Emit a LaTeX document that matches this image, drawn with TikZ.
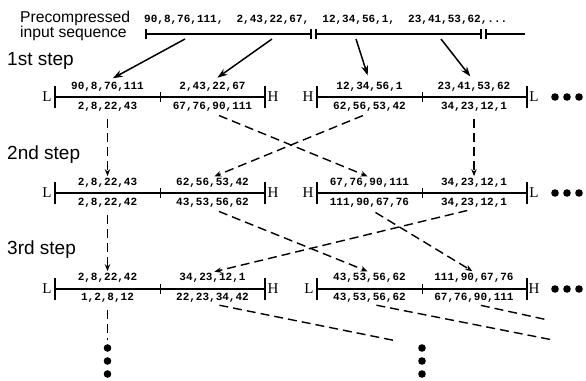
\documentclass[tikz,border=0pt]{standalone}
\usepackage{fontspec}
\usepackage{tikz}
\usetikzlibrary{arrows.meta, positioning}
\newfontfamily\arialfont{Liberation Sans}
\newfontfamily\courfont{Liberation Mono}
\newfontfamily\timesfont{Liberation Serif}

\begin{document}
\begin{tikzpicture}[x=1pt, y=-1pt,
    num/.style={font={\courfont\bfseries\fontsize{11}{12}\selectfont}, inner sep=1pt},
    steplabel/.style={font={\arialfont\fontsize{19}{20}\selectfont}, anchor=west, inner sep=0pt},
    endlabel/.style={font={\timesfont\fontsize{15}{16}\selectfont}, inner sep=0pt},
    arr/.style={-{Stealth[length=10pt, width=7pt]}, line width=1.5pt},
    darr/.style={-{Stealth[length=7pt, width=5.5pt]}, line width=1.4pt, dash pattern=on 9pt off 5pt},
    dline/.style={line width=1.4pt, dash pattern=on 9pt off 5pt}]
  \useasboundingbox (0,0) rectangle (586,380);

  % Input sequence
  \node[font={\arialfont\fontsize{15.7}{15}\selectfont}, align=left, anchor=west, inner sep=0pt]
    (pre) at (20,25.5) {Precompressed\\input sequence};
  \node[num, anchor=west] (seq) at (143,20) {90,8,76,111,~~2,43,22,67,~~12,34,56,1,~~23,41,53,62,...};
  \draw[line width=1.3pt] (146,34) -- (311,34);
  \draw[line width=1.3pt] (316,34) -- (481,34);
  \draw[line width=1.3pt] (486,34) -- (525,34);
  \foreach \x in {146,311,316,481,486}
    \draw[line width=1.1pt] (\x,29) -- (\x,39);

  % Step labels
  \node[steplabel] (st1) at (7,61) {1st step};
  \node[steplabel] (st2) at (7,155) {2nd step};
  \node[steplabel] (st3) at (7,250) {3rd step};

  % Blocks
  \foreach \y in {97,193,289}
    \foreach \x in {55,317} {
      \draw[line width=1.4pt] (\x,\y) -- (\x+210,\y);
      \draw[line width=1.4pt] (\x,\y-11) -- (\x,\y+11);
      \draw[line width=1.4pt] (\x+210,\y-11) -- (\x+210,\y+11);
      \draw[line width=1pt] (\x+105,\y-5) -- (\x+105,\y+5);
    }

  % Row 1
  \node[num] (a1t) at (107.5,87) {90,8,76,111};
  \node[num] (a2t) at (212.5,87) {2,43,22,67};
  \node[num] (a3t) at (369.5,87) {12,34,56,1};
  \node[num] (a4t) at (474,87) {23,41,53,62};
  \node[num] (a1b) at (107.5,107) {2,8,22,43};
  \node[num] (a2b) at (212.5,107) {67,76,90,111};
  \node[num] (a3b) at (369.5,107) {62,56,53,42};
  \node[num] (a4b) at (474,107) {34,23,12,1};
  \node[endlabel] (aL) at (47,97) {L};
  \node[endlabel] (aH) at (273,97) {H};
  \node[endlabel] (aH2) at (308,97) {H};
  \node[endlabel] (aL2) at (534,97) {L};

  % Row 2
  \node[num] (b1t) at (107.5,183) {2,8,22,43};
  \node[num] (b2t) at (212.5,183) {62,56,53,42};
  \node[num] (b3t) at (369.5,183) {67,76,90,111};
  \node[num] (b4t) at (474,183) {34,23,12,1};
  \node[num] (b1b) at (107.5,203) {2,8,22,42};
  \node[num] (b2b) at (212.5,203) {43,53,56,62};
  \node[num] (b3b) at (369.5,203) {111,90,67,76};
  \node[num] (b4b) at (474,203) {34,23,12,1};
  \node[endlabel] (bL) at (47,193) {L};
  \node[endlabel] (bH) at (273,193) {H};
  \node[endlabel] (bH2) at (308,193) {H};
  \node[endlabel] (bL2) at (534,193) {L};

  % Row 3
  \node[num] (c1t) at (107.5,278) {2,8,22,42};
  \node[num] (c2t) at (212.5,278) {34,23,12,1};
  \node[num] (c3t) at (369.5,278) {43,53,56,62};
  \node[num] (c4t) at (474,278) {111,90,67,76};
  \node[num] (c1b) at (107.5,298) {1,2,8,12};
  \node[num] (c2b) at (212.5,298) {22,23,34,42};
  \node[num] (c3b) at (369.5,298) {43,53,56,62};
  \node[num] (c4b) at (474,298) {67,76,90,111};
  \node[endlabel] (cL) at (47,289) {L};
  \node[endlabel] (cH) at (273,289) {H};
  \node[endlabel] (cL2) at (309,289) {L};
  \node[endlabel] (cH2) at (534,289) {H};

  % More blocks to the right
  \foreach \y in {97,193,289}
    \foreach \x in {555,567,579}
      \fill (\x,\y) circle[radius=3.8pt];

  % Input split
  \coordinate (in1) at (185,39);
  \coordinate (in2) at (272,39);
  \coordinate (in3) at (356,39);
  \coordinate (in4) at (441,39);
  \draw[arr, shorten >=6pt] (in1) -- (a1t.north);
  \draw[arr, shorten >=6pt] (in2) -- (a2t.north);
  \draw[arr, shorten >=6pt] (in3) -- (a3t.north);
  \draw[arr, shorten >=6pt] (in4) -- (a4t.north);

  % Step 1 -> step 2
  \draw[darr, shorten <=6pt, shorten >=1pt] (a1b.south) -- (b1t.north);
  \draw[darr, shorten <=7pt, shorten >=2pt] (a2b.south) -- (b3t.north);
  \draw[darr, shorten <=7pt, shorten >=2pt] (a3b.south) -- (b2t.north);
  \draw[darr, shorten <=6pt, shorten >=1pt] (a4b.south) -- (b4t.north);

  % Step 2 -> step 3
  \draw[darr, shorten <=6pt, shorten >=1pt] (b1b.south) -- (c1t.north);
  \draw[darr, shorten <=7pt, shorten >=2pt] (b2b.south) -- (c3t.north);
  \draw[darr, shorten <=7pt, shorten >=2pt] (b4b.south) -- (c2t.north);
  \draw[darr, shorten <=7pt, shorten >=2pt] (b3b.south) -- (c4t.north);

  % Step 3 -> onwards
  \coordinate (d1) at (107.5,340);
  \coordinate (d2) at (397,341);
  \coordinate (d3) at (553,340);
  \coordinate (d4) at (548,320);
  \draw[dline, shorten <=6pt] (c1b.south) -- (d1);
  \draw[dline, shorten <=7pt] (c2b.south) -- (d2);
  \draw[dline, shorten <=7pt] (c3b.south) -- (d3);
  \draw[dline, shorten <=7pt] (c4b.south) -- (d4);

  \foreach \y in {348,361,374} {
    \fill (107.5,\y) circle[radius=3.8pt];
    \fill (422,\y) circle[radius=3.8pt];
  }
\end{tikzpicture}
\end{document}
